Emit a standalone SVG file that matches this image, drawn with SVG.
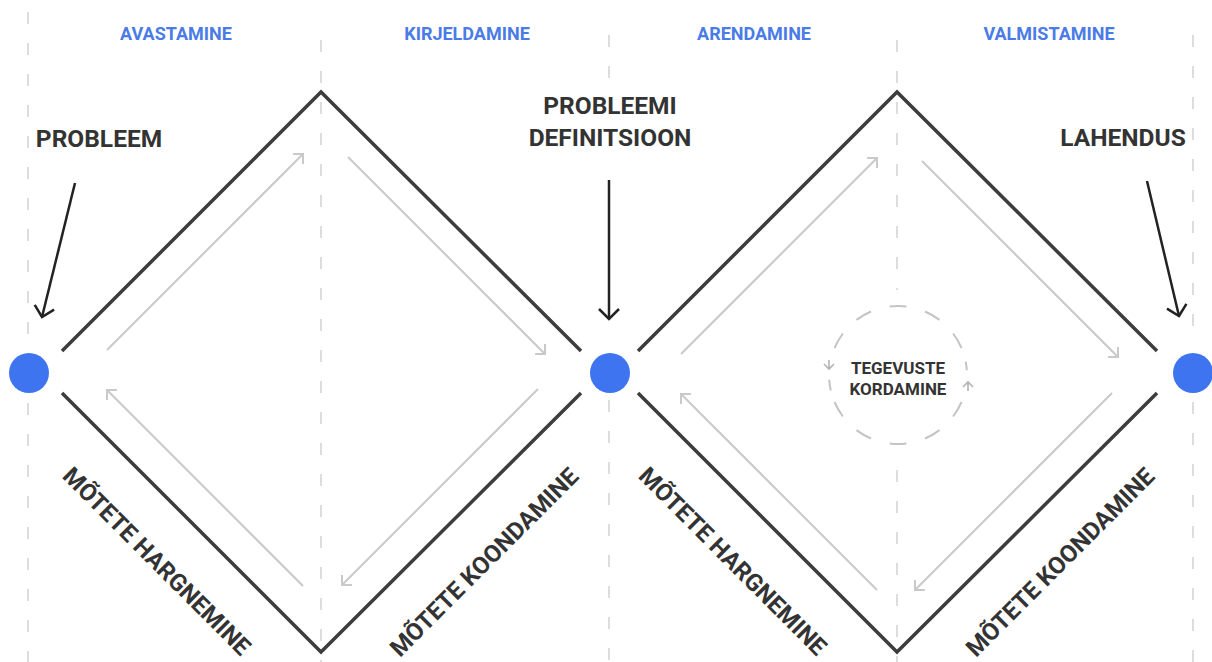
<svg xmlns="http://www.w3.org/2000/svg" width="1212" height="662" viewBox="0 0 1212 662">
<style>
.grid{stroke:#d2d2d2;stroke-width:1.5;stroke-dasharray:12 19;fill:none}
.edge{stroke:#3d3d3d;stroke-width:3.5;fill:none;stroke-linejoin:miter}
.flow{stroke:#c9c9c9;stroke-width:2;fill:none;marker-end:url(#ag)}
.ptr{stroke:#222;stroke-width:2.5;fill:none;marker-end:url(#ab)}
.phase{font-family:Roboto,"Liberation Sans",sans-serif;font-weight:700;font-size:18px;fill:#4a7be6;text-anchor:middle}
.lbl{font-family:Roboto,"Liberation Sans",sans-serif;font-weight:700;font-size:24.5px;fill:#333;text-anchor:middle}
.side{font-family:Roboto,"Liberation Sans",sans-serif;font-weight:700;font-size:24px;fill:#333;text-anchor:middle}
.small{font-family:Roboto,"Liberation Sans",sans-serif;font-weight:700;font-size:17px;fill:#333;text-anchor:middle}
.dot{fill:#3f74f1}
</style>
<defs>
<marker id="ag" viewBox="-9 -9 11 18" refX="0" refY="0" markerWidth="11" markerHeight="18" markerUnits="userSpaceOnUse" orient="auto">
<path d="M-7,-7 L0,0 L-7,7" fill="none" stroke="#c9c9c9" stroke-width="2"/>
</marker>
<marker id="ab" viewBox="-12 -12 14 24" refX="0" refY="0" markerWidth="14" markerHeight="24" markerUnits="userSpaceOnUse" orient="auto">
<path d="M-10,-10 L0,0 L-10,10" fill="none" stroke="#222" stroke-width="2.5"/>
</marker>
</defs>
<rect width="1212" height="662" fill="#fff"/>
<g id="grid">
<path class="grid" d="M28,12 V343 M28,403 V662 M321,40 V662 M609,35 V88 M609,400 V662 M897,40 V290 M897,470 V662 M1193,35 V345 M1193,402 V662"/>
</g>
<g id="phases">
<text class="phase" x="176" y="40">AVASTAMINE</text>
<text class="phase" x="467" y="40">KIRJELDAMINE</text>
<text class="phase" x="754" y="40">ARENDAMINE</text>
<text class="phase" x="1049" y="40">VALMISTAMINE</text>
</g>
<g id="diamond1">
<path class="edge" d="M62,351 L321,92 L581,351"/>
<path class="edge" d="M62,393 L321,652 L581,393"/>
</g>
<g id="diamond2">
<path class="edge" d="M638,351 L897,92 L1157,351"/>
<path class="edge" d="M638,393 L897,652 L1157,393"/>
</g>
<g id="connectors">
<line class="flow" x1="107" y1="350" x2="303" y2="154"/>
<line class="flow" x1="348" y1="157" x2="545" y2="354"/>
<line class="flow" x1="538" y1="389" x2="342" y2="585"/>
<line class="flow" x1="303" y1="586" x2="107" y2="390"/>
<line class="flow" x1="681" y1="354" x2="877" y2="158"/>
<line class="flow" x1="922" y1="161" x2="1118" y2="357"/>
<line class="flow" x1="1112" y1="393" x2="915" y2="590"/>
<line class="flow" x1="877" y1="590" x2="681" y2="394"/>
<line class="ptr" x1="75" y1="183" x2="42" y2="317"/>
<line class="ptr" x1="609" y1="180" x2="609" y2="319"/>
<line class="ptr" x1="1147" y1="181" x2="1179" y2="316"/>
</g>
<g id="problem">
<circle class="dot" cx="29" cy="373" r="20"/>
<text class="lbl" x="99" y="147">PROBLEEM</text>
</g>
<g id="definition">
<circle class="dot" cx="610" cy="373" r="20"/>
<text class="lbl" x="610" y="114">PROBLEEMI</text>
<text class="lbl" x="610" y="146">DEFINITSIOON</text>
</g>
<g id="solution">
<circle class="dot" cx="1193" cy="373" r="20"/>
<text class="lbl" x="1123" y="146">LAHENDUS</text>
</g>
<g id="iteration">
<path d="M961.5,402 A69,69 0 0 1 953.1,416.5 M939.5,430.1 A69,69 0 0 1 925,438.5 M906.4,443.5 A69,69 0 0 1 889.6,443.5 M871,438.5 A69,69 0 0 1 856.5,430.1 M842.9,416.5 A69,69 0 0 1 834.5,402 M834.5,348 A69,69 0 0 1 842.9,333.5 M856.5,319.9 A69,69 0 0 1 871,311.5 M889.6,306.5 A69,69 0 0 1 906.4,306.5 M925,311.5 A69,69 0 0 1 939.5,319.9 M953.1,333.5 A69,69 0 0 1 961.5,348 M965.7,361.8 A69,69 0 0 1 966.8,370.2 M830.8,390.5 A69,69 0 0 1 829.2,379.8" fill="none" stroke="#c4c4c4" stroke-width="2"/>
<path d="M829,360 V369 M824,364 L829,369 L834,364 M968,391 V382 M963,387 L968,382 L973,387" fill="none" stroke="#b4b4b4" stroke-width="1.6"/>
<text class="small" x="898" y="374">TEGEVUSTE</text>
<text class="small" x="898" y="395">KORDAMINE</text>
</g>
<g id="labels">
<text class="side" transform="translate(157,561) rotate(45)" dy="8.5">MÕTETE HARGNEMINE</text>
<text class="side" transform="translate(484,562) rotate(-45)" dy="8.5">MÕTETE KOONDAMINE</text>
<text class="side" transform="translate(733,561) rotate(45)" dy="8.5">MÕTETE HARGNEMINE</text>
<text class="side" transform="translate(1060,562) rotate(-45)" dy="8.5">MÕTETE KOONDAMINE</text>
</g>
</svg>
